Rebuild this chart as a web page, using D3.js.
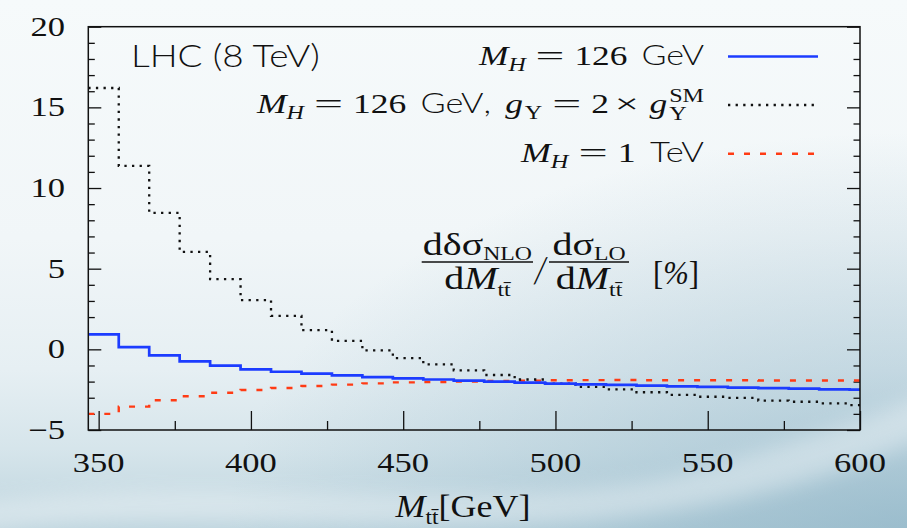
<!DOCTYPE html>
<html>
<head>
<meta charset="utf-8">
<script src="https://cdn.jsdelivr.net/npm/d3@7"></script>
<style>
  html, body { margin: 0; padding: 0; overflow: hidden; background: #f2f7f9; }
  svg { display: block; }
</style>
</head>
<body>
<svg id="chart" width="907" height="528"></svg>
<script>
// Bin edges in M_tt [GeV]: 10 GeV bins starting at the tt threshold, last bin cut at 600
const binEdges = [346.6, 356.6, 366.6, 376.6, 386.6, 396.6, 406.6, 416.6, 426.6, 436.6,
                  446.6, 456.6, 466.6, 476.6, 486.6, 496.6, 506.6, 516.6, 526.6, 536.6,
                  546.6, 556.6, 566.6, 576.6, 586.6, 596.6, 600];

// NLO correction relative to LO, in percent, one value per bin
const mh126 = [0.93, 0.14, -0.37, -0.74, -1.01, -1.24, -1.39, -1.51, -1.62, -1.72,
               -1.80, -1.87, -1.94, -2.00, -2.06, -2.12, -2.17, -2.20, -2.25, -2.29,
               -2.33, -2.37, -2.41, -2.44, -2.48, -2.50];
const mh126Yukawa2 = [16.2, 11.37, 8.46, 6.04, 4.35, 3.05, 2.08, 1.19, 0.52, -0.07,
                      -0.54, -0.93, -1.30, -1.59, -1.87, -2.13, -2.33, -2.48, -2.66, -2.82,
                      -2.94, -3.01, -3.18, -3.25, -3.35, -3.46];
const mh1000 = [-4.00, -3.55, -3.16, -2.91, -2.69, -2.52, -2.40, -2.27, -2.19, -2.11,
                -2.05, -2.02, -1.99, -1.96, -1.94, -1.92, -1.91, -1.90, -1.92, -1.92,
                -1.92, -1.92, -1.93, -1.93, -1.93, -1.93];

const xTickValues = [350, 400, 450, 500, 550, 600];
const xMinorTickValues = [375, 425, 475, 525, 575];
const yTickValues = [-5, 0, 5, 10, 15, 20];

const W = 907, H = 528;
const plot = { left: 88.3, right: 860, top: 26.7, bottom: 430 };
const S = 1.28;   // horizontal stretch of the lettering

const SERIF = "'Liberation Serif', 'Times New Roman', serif";
const SANS = "Lato, 'Open Sans', sans-serif";

const svg = d3.select("#chart");
const defs = svg.append("defs");

// ---- backdrop -------------------------------------------------------------
const bg = defs.append("linearGradient").attr("id", "bgGrad")
  .attr("x1", 0).attr("y1", 0).attr("x2", 0).attr("y2", 1);
[[0, "#f6fafb"], [0.45, "#f1f6f8"], [0.7, "#e6eff3"], [0.85, "#d6e5eb"], [1, "#bdd4de"]]
  .forEach(([o, c]) => bg.append("stop").attr("offset", o).attr("stop-color", c));

const corner = defs.append("radialGradient").attr("id", "cornerGrad")
  .attr("cx", 1).attr("cy", 1).attr("r", 0.75);
corner.append("stop").attr("offset", 0).attr("stop-color", "#7faabf").attr("stop-opacity", 0.55);
corner.append("stop").attr("offset", 1).attr("stop-color", "#7faabf").attr("stop-opacity", 0);

defs.append("filter").attr("id", "soft").attr("x", "-20%").attr("y", "-50%")
  .attr("width", "140%").attr("height", "200%")
  .append("feGaussianBlur").attr("stdDeviation", 10);

svg.append("rect").attr("width", W).attr("height", H).attr("fill", "url(#bgGrad)");
svg.append("rect").attr("width", W).attr("height", H).attr("fill", "url(#cornerGrad)");
// pale sweeping band across the lower part
svg.append("path")
  .attr("d", "M-40,505 C220,470 520,520 700,470 C800,440 870,420 960,380 L960,420 C860,470 760,500 640,515 C420,545 180,500 -40,535 Z")
  .attr("fill", "#ffffff").attr("opacity", 0.35).attr("filter", "url(#soft)");

// ---- scales ---------------------------------------------------------------
const x = d3.scaleLinear().domain([binEdges[0], 600]).range([plot.left, plot.right]);
const y = d3.scaleLinear().domain([-5, 20]).range([plot.bottom, plot.top]);

// ---- axes (ticks drawn inside the frame) ----------------------------------
function styleAxis(g) {
  g.select(".domain").remove();
  g.selectAll("line").attr("stroke", "#111").attr("stroke-width", 1.3);
  g.selectAll("text").remove();
}
svg.append("g").attr("transform", `translate(0,${plot.bottom})`)
  .call(d3.axisBottom(x).tickValues(xTickValues).tickSize(-19)).call(styleAxis);
svg.append("g").attr("transform", `translate(0,${plot.bottom})`)
  .call(d3.axisBottom(x).tickValues(xMinorTickValues).tickSize(-9)).call(styleAxis);
const yMinor = d3.range(-4, 20).filter(v => v % 5 !== 0);
svg.append("g").attr("transform", `translate(${plot.left},0)`)
  .call(d3.axisLeft(y).tickValues(yTickValues).tickSize(-13)).call(styleAxis);
svg.append("g").attr("transform", `translate(${plot.left},0)`)
  .call(d3.axisLeft(y).tickValues(yMinor).tickSize(-6.5)).call(styleAxis);
svg.append("g").attr("transform", `translate(${plot.right},0)`)
  .call(d3.axisRight(y).tickValues(yTickValues).tickSize(-13)).call(styleAxis);
svg.append("g").attr("transform", `translate(${plot.right},0)`)
  .call(d3.axisRight(y).tickValues(yMinor).tickSize(-6.5)).call(styleAxis);

// tick labels
const fmt = d3.format("d");
svg.append("g").selectAll("text").data(xTickValues).join("text")
  .attr("transform", d => `translate(${x(d)},472) scale(${S},1)`)
  .attr("text-anchor", "middle").attr("font-family", SERIF).attr("font-size", 27)
  .attr("fill", "#111").text(fmt);
svg.append("g").selectAll("text").data(yTickValues).join("text")
  .attr("transform", d => `translate(65,${y(d) + 9}) scale(${S},1)`)
  .attr("text-anchor", "end").attr("font-family", SERIF).attr("font-size", 27)
  .attr("fill", "#111").text(fmt);

// ---- histograms -------------------------------------------------------------
const step = d3.line().x(d => x(d[0])).y(d => y(d[1])).curve(d3.curveStepAfter);
function stepPoints(vals) {
  const pts = vals.map((v, i) => [binEdges[i], v]);
  pts.push([binEdges[binEdges.length - 1], vals[vals.length - 1]]);
  return pts;
}
const series = [
  { vals: mh1000, color: "#ff3b14", width: 2.4, dash: "6,10" },
  { vals: mh126Yukawa2, color: "#111111", width: 2.3, dash: "2.3,5.3" },
  { vals: mh126, color: "#1c3cff", width: 2.7, dash: null }
];
svg.append("g").selectAll("path").data(series).join("path")
  .attr("d", d => step(stepPoints(d.vals)))
  .attr("fill", "none").attr("stroke", d => d.color).attr("stroke-width", d => d.width)
  .attr("stroke-dasharray", d => d.dash);

// frame
svg.append("rect").attr("x", plot.left).attr("y", plot.top)
  .attr("width", plot.right - plot.left).attr("height", plot.bottom - plot.top)
  .attr("fill", "none").attr("stroke", "#111").attr("stroke-width", 1.5);

// ---- rich text helper --------------------------------------------------------
// parts: {t, f: 'it'|'rm'|'sf', size, dy, k (own horizontal scale), gap (extra advance in em),
//         attach (continue the previous text element as a tspan, dx = extra px),
//         stack (tspan placed above the previous run instead of after it)}
// opts: {x, y, anchor, sx, width (fit to this width instead of sx)}
function richText(parent, parts, baseSize, opts) {
  const g = parent.append("g");
  let cx = 0, maxX = 0, lastStart = 0, lastText = null;
  parts.forEach(p => {
    if (p.gap) { cx += p.gap * baseSize; return; }
    const size = p.size || baseSize;
    const fam = p.f === "sf" ? SANS : SERIF;
    const weight = p.f === "sf" ? 300 : 400;
    const style = p.f === "it" ? "italic" : "normal";
    const k = p.k || 1;
    if (p.stack && lastText) {
      const ts = lastText.append("tspan").attr("x", lastStart).attr("y", p.dy || 0)
        .attr("font-size", size).attr("font-family", fam).attr("font-style", style).text(p.t);
      const w = ts.node().getComputedTextLength();
      cx = Math.max(cx, lastStart + w);
    } else if (p.attach && lastText) {
      const sx0 = cx + (p.dx || 0);
      const ts = lastText.append("tspan").attr("x", sx0).attr("y", p.dy || 0)
        .attr("font-size", size).attr("font-family", fam).attr("font-style", style).text(p.t);
      const w = ts.node().getComputedTextLength();
      lastStart = sx0; cx = sx0 + w;
    } else {
      const t = g.append("text").attr("x", cx / k).attr("y", p.dy || 0)
        .attr("font-family", fam).attr("font-size", size).attr("font-weight", weight)
        .attr("font-style", style).attr("fill", "#111").text(p.t);
      if (k !== 1) t.attr("transform", `scale(${k},1)`);
      const w = t.node().getComputedTextLength() * k;
      lastStart = cx; lastText = t; cx += w;
    }
    maxX = Math.max(maxX, cx);
  });
  const sx = opts.width ? opts.width / maxX : (opts.sx || 1);
  const width = maxX * sx;
  const ox = opts.anchor === "end" ? opts.x - width : opts.anchor === "middle" ? opts.x - width / 2 : opts.x;
  g.attr("transform", `translate(${ox},${opts.y}) scale(${sx},1)`);
  return g;
}

// ---- legend ------------------------------------------------------------------
const lg = svg.append("g");
const EQ = [{ gap: 0.28 }, { t: "=", f: "rm", k: 1.45 }, { gap: 0.28 }];
const MH = [{ t: "M", f: "it" }, { t: "H", f: "it", size: 19, dy: 6 }, ...EQ];
const legendRows = [
  { parts: [...MH, { t: "126", f: "rm" }, { gap: 0.4 }, { t: "GeV", f: "sf", size: 27 }],
    y: 64.5, span: 225, color: "#1c3cff", width: 2.7, dash: null },
  { parts: [...MH, { t: "126", f: "rm" }, { gap: 0.4 }, { t: "GeV", f: "sf", size: 27 }, { t: ",", f: "sf", size: 27 },
            { gap: 0.4 }, { t: "g", f: "it" }, { t: "Y", f: "rm", size: 19, dy: 6, attach: true, dx: 1.5 }, ...EQ,
            { t: "2", f: "rm" }, { gap: 0.16 }, { t: "×", f: "rm", k: 1.2 }, { gap: 0.3 },
            { t: "g", f: "it" }, { t: "Y", f: "rm", size: 19, dy: 7, attach: true, dx: 1.5 },
            { t: "SM", f: "rm", size: 19, dy: -11, stack: true }],
    y: 113, span: 447, color: "#111111", width: 2.3, dash: "2.3,5.3" },
  { parts: [...MH, { t: "1", f: "rm" }, { gap: 0.4 }, { t: "TeV", f: "sf", size: 27 }],
    y: 161.7, span: 183, color: "#ff3b14", width: 2.4, dash: "6,10" }
];
legendRows.forEach(r => {
  richText(lg, r.parts, 28, { x: 704, y: r.y, anchor: "end", width: r.span });
  lg.append("line").attr("x1", 728).attr("x2", 818).attr("y1", r.y - 8).attr("y2", r.y - 8)
    .attr("stroke", r.color).attr("stroke-width", r.width).attr("stroke-dasharray", r.dash);
});

// collider label
richText(svg, [{ t: "LHC (8 TeV)", f: "sf" }], 32, { x: 131, y: 67, anchor: "start", width: 189 });

// ---- y quantity, written as a ratio of distributions ---------------------------
const fr = svg.append("g");
const fracOpts = (cx, yb) => ({ x: cx, y: yb, anchor: "middle", sx: 1.25 });
richText(fr, [{ t: "dδσ", f: "rm" }, { t: "NLO", f: "rm", size: 19, dy: 5 }], 32, fracOpts(477.4, 255));
richText(fr, [{ t: "d", f: "rm" }, { t: "M", f: "it" }, { t: "tt̄", f: "rm", size: 19, dy: 7 }], 32, fracOpts(477.4, 289));
fr.append("line").attr("x1", 421.7).attr("x2", 533).attr("y1", 262).attr("y2", 262)
  .attr("stroke", "#111").attr("stroke-width", 1.6);
richText(fr, [{ t: "/", f: "sf" }], 36, { x: 540.5, y: 283, anchor: "middle", sx: 1.1 });
richText(fr, [{ t: "dσ", f: "rm" }, { t: "LO", f: "rm", size: 19, dy: 5 }], 32, fracOpts(589, 255));
richText(fr, [{ t: "d", f: "rm" }, { t: "M", f: "it" }, { t: "tt̄", f: "rm", size: 19, dy: 7 }], 32, fracOpts(589, 289));
fr.append("line").attr("x1", 549).attr("x2", 629).attr("y1", 262).attr("y2", 262)
  .attr("stroke", "#111").attr("stroke-width", 1.6);
richText(fr, [{ t: "[", f: "rm" }, { t: "%", f: "it" }, { t: "]", f: "rm" }], 33, { x: 653, y: 284, anchor: "start", width: 46 });

// ---- x axis title ----------------------------------------------------------------
richText(svg, [{ t: "M", f: "it" }, { t: "tt̄", f: "rm", size: 20, dy: 7 }, { t: "[GeV]", f: "rm" }],
  31, { x: 463, y: 517, anchor: "middle", width: 135 });
</script>
</body>
</html>
